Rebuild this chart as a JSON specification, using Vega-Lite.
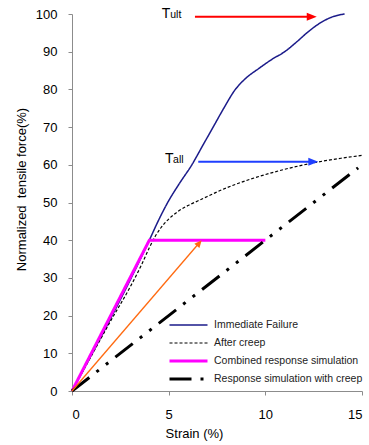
{
  "$schema": "https://vega.github.io/schema/vega-lite/v6.json",
  "width": 290,
  "height": 377,
  "autosize": {"type": "none"},
  "padding": {"left": 72, "top": 14, "right": 7, "bottom": 54},
  "background": "white",
  "config": {
    "view": {"stroke": null},
    "font": "Liberation Sans",
    "axis": {
      "grid": false,
      "domainColor": "#8c8c8c",
      "tickColor": "#8c8c8c",
      "tickSize": 4,
      "labelFont": "Liberation Sans",
      "labelFontSize": 13,
      "labelColor": "#000",
      "titleFont": "Liberation Sans",
      "titleFontSize": 13,
      "titleFontWeight": "normal",
      "titleColor": "#000"
    }
  },
  "datasets": {
    "curves": [
      {"s": "Immediate Failure", "x": 0, "y": 0},
      {"s": "Immediate Failure", "x": 4, "y": 40},
      {"s": "Immediate Failure", "x": 4.45, "y": 45},
      {"s": "Immediate Failure", "x": 4.95, "y": 50},
      {"s": "Immediate Failure", "x": 5.55, "y": 55},
      {"s": "Immediate Failure", "x": 6.2, "y": 60},
      {"s": "Immediate Failure", "x": 6.75, "y": 65},
      {"s": "Immediate Failure", "x": 7.3, "y": 70},
      {"s": "Immediate Failure", "x": 7.85, "y": 75},
      {"s": "Immediate Failure", "x": 8.45, "y": 80},
      {"s": "Immediate Failure", "x": 9.0, "y": 83},
      {"s": "Immediate Failure", "x": 9.65, "y": 85.5},
      {"s": "Immediate Failure", "x": 10.35, "y": 88},
      {"s": "Immediate Failure", "x": 11, "y": 90},
      {"s": "Immediate Failure", "x": 11.6, "y": 92.5},
      {"s": "Immediate Failure", "x": 12.15, "y": 95},
      {"s": "Immediate Failure", "x": 12.8, "y": 97.5},
      {"s": "Immediate Failure", "x": 13.5, "y": 99.3},
      {"s": "Immediate Failure", "x": 14.1, "y": 100},
      {"s": "After creep", "x": 0, "y": 0},
      {"s": "After creep", "x": 1, "y": 9.3},
      {"s": "After creep", "x": 2, "y": 18.6},
      {"s": "After creep", "x": 3, "y": 27.5},
      {"s": "After creep", "x": 3.6, "y": 33.5},
      {"s": "After creep", "x": 4, "y": 38},
      {"s": "After creep", "x": 4.3, "y": 41},
      {"s": "After creep", "x": 4.6, "y": 43.3},
      {"s": "After creep", "x": 5, "y": 45.6},
      {"s": "After creep", "x": 5.5, "y": 47.7},
      {"s": "After creep", "x": 6, "y": 49.2},
      {"s": "After creep", "x": 6.5, "y": 50.4},
      {"s": "After creep", "x": 7, "y": 51.6},
      {"s": "After creep", "x": 7.5, "y": 52.8},
      {"s": "After creep", "x": 8, "y": 53.9},
      {"s": "After creep", "x": 9, "y": 55.8},
      {"s": "After creep", "x": 10, "y": 57.4},
      {"s": "After creep", "x": 11, "y": 58.8},
      {"s": "After creep", "x": 12, "y": 60},
      {"s": "After creep", "x": 13, "y": 61},
      {"s": "After creep", "x": 14, "y": 61.8},
      {"s": "After creep", "x": 15, "y": 62.5},
      {"s": "Combined response simulation", "x": 0, "y": 0},
      {"s": "Combined response simulation", "x": 4, "y": 40},
      {"s": "Combined response simulation", "x": 10, "y": 40},
      {"s": "Response simulation with creep", "x": 0, "y": 0},
      {"s": "Response simulation with creep", "x": 14.8, "y": 59.2}
    ],
    "arrows": [
      {"name": "ult", "x": 6.36, "x2": 12.3, "y": 99.3, "y2": 99.3, "tx": 12.66, "ty": 99.3},
      {"name": "all", "x": 6.53, "x2": 12.4, "y": 60.8, "y2": 60.8, "tx": 12.74, "ty": 60.8},
      {"name": "orange", "x": 0, "x2": 6.5, "y": 0, "y2": 38.8, "tx": 6.71, "ty": 40}
    ],
    "labels": [
      {"t": "T", "x": 4.64, "y": 98.9},
      {"t": "T", "x": 4.81, "y": 60.56}
    ],
    "subs": [
      {"t": "ult", "x": 5.08, "y": 98.9},
      {"t": "all", "x": 5.23, "y": 60.56}
    ]
  },
  "encoding": {
    "x": {
      "field": "x", "type": "quantitative",
      "scale": {"domain": [0, 15], "nice": false},
      "axis": {"values": [0, 5, 10, 15], "title": "Strain (%)", "labelPadding": 13,
               "titleX": 122, "titleY": 46, "titleAlign": "center", "titleBaseline": "alphabetic", "titleAnchor": null}
    },
    "y": {
      "field": "y", "type": "quantitative",
      "scale": {"domain": [0, 100], "nice": false},
      "axis": {"values": [0, 10, 20, 30, 40, 50, 60, 70, 80, 90, 100], "title": "Normalized\u00a0 tensile force(%)",
               "labelPadding": 11, "titleX": -47, "titleY": 175, "titleAngle": -90, "titleAlign": "center", "titleBaseline": "alphabetic"}
    }
  },
  "layer": [
    {
      "data": {"name": "curves"},
      "transform": [{"filter": {"field": "s", "oneOf": ["Immediate Failure", "After creep"]}}],
      "mark": {"type": "line", "interpolate": "monotone"},
      "encoding": {
        "color": {"field": "s", "type": "nominal",
          "scale": {"domain": ["Immediate Failure", "After creep", "Combined response simulation", "Response simulation with creep"],
                    "range": ["#1b1b8a", "#000000", "#ff00ff", "#000000"]},
          "legend": {"orient": "none", "legendX": 96, "legendY": 302, "title": null, "symbolType": "stroke", "symbolSize": 1444,
                     "clipHeight": 18, "rowPadding": 0, "labelOffset": 5, "labelFontSize": 10.5, "labelFont": "Liberation Sans",
                     "labelColor": "#222", "padding": 0, "symbolOffset": 0, "labelLimit": 300}},
        "strokeDash": {"field": "s", "type": "nominal",
          "scale": {"domain": ["Immediate Failure", "After creep", "Combined response simulation", "Response simulation with creep"],
                    "range": [[1, 0], [3, 2], [1, 0], [22, 9, 3, 9, 3, 9]]}},
        "strokeWidth": {"field": "s", "type": "nominal",
          "scale": {"type": "ordinal", "domain": ["Immediate Failure", "After creep", "Combined response simulation", "Response simulation with creep"],
                    "range": [1.5, 1.2, 3, 3]}}
      }
    },
    {
      "data": {"name": "curves"},
      "transform": [{"filter": {"field": "s", "oneOf": ["Combined response simulation", "Response simulation with creep"]}}],
      "mark": {"type": "line"},
      "encoding": {
        "color": {"field": "s", "type": "nominal",
          "scale": {"domain": ["Immediate Failure", "After creep", "Combined response simulation", "Response simulation with creep"],
                    "range": ["#1b1b8a", "#000000", "#ff00ff", "#000000"]}},
        "strokeDash": {"field": "s", "type": "nominal",
          "scale": {"domain": ["Immediate Failure", "After creep", "Combined response simulation", "Response simulation with creep"],
                    "range": [[1, 0], [3, 2], [1, 0], [22, 9, 3, 9, 3, 9]]}},
        "strokeWidth": {"field": "s", "type": "nominal",
          "scale": {"type": "ordinal", "domain": ["Immediate Failure", "After creep", "Combined response simulation", "Response simulation with creep"],
                    "range": [1.5, 1.2, 3, 3]}}
      }
    },
    {
      "data": {"name": "arrows"},
      "transform": [{"filter": "datum.name === 'ult'"}],
      "mark": {"type": "rule", "color": "#ff0000", "strokeWidth": 2},
      "encoding": {"x2": {"field": "x2"}, "y2": {"field": "y2"}}
    },
    {
      "data": {"name": "arrows"},
      "transform": [{"filter": "datum.name === 'all'"}],
      "mark": {"type": "rule", "color": "#1f3fff", "strokeWidth": 2},
      "encoding": {"x2": {"field": "x2"}, "y2": {"field": "y2"}}
    },
    {
      "data": {"name": "arrows"},
      "transform": [{"filter": "datum.name === 'orange'"}],
      "mark": {"type": "rule", "color": "#ff6a10", "strokeWidth": 1.3},
      "encoding": {"x2": {"field": "x2"}, "y2": {"field": "y2"}}
    },
    {
      "data": {"name": "arrows"},
      "transform": [{"filter": "datum.name === 'ult'"}],
      "mark": {"type": "point", "shape": "M 0 0 L -1 -0.4 L -1 0.4 Z", "filled": true, "opacity": 1, "color": "#ff0000", "size": 400},
      "encoding": {"x": {"field": "tx", "type": "quantitative"}, "y": {"field": "ty", "type": "quantitative"}}
    },
    {
      "data": {"name": "arrows"},
      "transform": [{"filter": "datum.name === 'all'"}],
      "mark": {"type": "point", "shape": "M 0 0 L -1 -0.4 L -1 0.4 Z", "filled": true, "opacity": 1, "color": "#1f3fff", "size": 400},
      "encoding": {"x": {"field": "tx", "type": "quantitative"}, "y": {"field": "ty", "type": "quantitative"}}
    },
    {
      "data": {"name": "arrows"},
      "transform": [{"filter": "datum.name === 'orange'"}],
      "mark": {"type": "point", "shape": "M 0 0 L -1 -0.45 L -1 0.45 Z", "filled": true, "opacity": 1, "color": "#ff6a10", "size": 220, "angle": 310.7},
      "encoding": {"x": {"field": "tx", "type": "quantitative"}, "y": {"field": "ty", "type": "quantitative"}}
    },
    {
      "data": {"name": "labels"},
      "mark": {"type": "text", "align": "left", "baseline": "alphabetic", "fontSize": 14, "font": "Liberation Sans", "color": "#000"},
      "encoding": {"text": {"field": "t"}}
    },
    {
      "data": {"name": "subs"},
      "mark": {"type": "text", "align": "left", "baseline": "alphabetic", "fontSize": 10.5, "font": "Liberation Sans", "color": "#000"},
      "encoding": {"text": {"field": "t"}}
    }
  ]
}
